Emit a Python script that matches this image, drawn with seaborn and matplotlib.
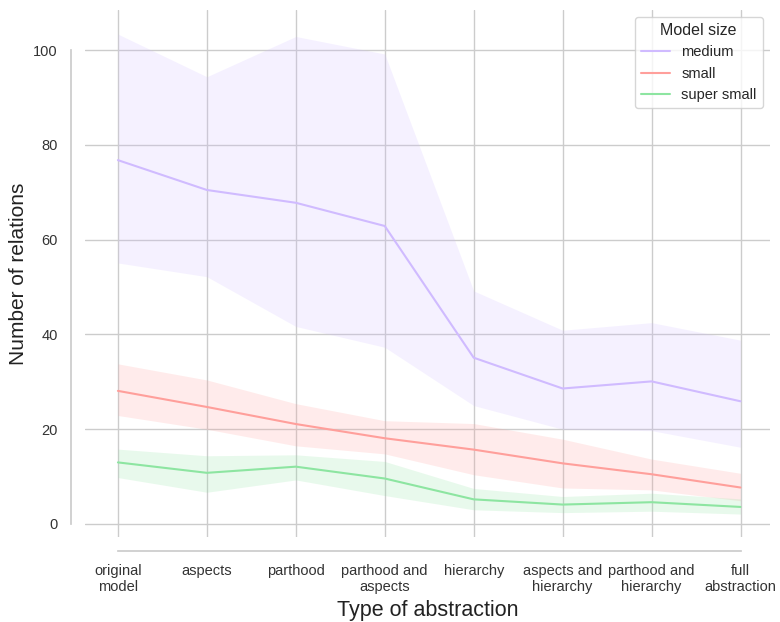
import numpy as np
import pandas as pd
import matplotlib
matplotlib.use("Agg")
import matplotlib.pyplot as plt
import seaborn as sns

categories = ["original\nmodel", "aspects", "parthood", "parthood and\naspects",
              "hierarchy", "aspects and\nhierarchy", "parthood and\nhierarchy", "full\nabstraction"]
sizes = ["medium", "small", "super small"]

medium_mean = [76.8, 70.5, 67.8, 62.9, 35.1, 28.6, 30.1, 25.9]
medium_low = [55.1, 52.2, 41.7, 37.3, 25.0, 20.0, 19.7, 16.2]
medium_high = [103.4, 94.4, 102.9, 99.2, 49.2, 40.9, 42.5, 38.8]

small_mean = [28.1, 24.7, 21.1, 18.1, 15.7, 12.8, 10.5, 7.7]
small_low = [22.9, 20.0, 16.5, 14.8, 10.4, 7.6, 7.2, 4.9]
small_high = [33.8, 30.4, 25.4, 21.8, 21.2, 17.9, 13.7, 10.7]

ssmall_mean = [13.0, 10.8, 12.1, 9.6, 5.2, 4.1, 4.6, 3.6]
ssmall_low = [9.8, 6.7, 9.3, 6.0, 3.0, 2.4, 2.7, 2.1]
ssmall_high = [15.8, 14.4, 14.6, 13.2, 7.5, 5.8, 6.5, 5.3]

pastel = sns.color_palette("pastel")
colors = {"medium": pastel[4], "small": pastel[3], "super small": pastel[2]}

sns.set_theme(style="whitegrid")
plt.rcParams["font.family"] = ["Liberation Sans", "DejaVu Sans"]

means = {"medium": medium_mean, "small": small_mean, "super small": ssmall_mean}
lows = {"medium": medium_low, "small": small_low, "super small": ssmall_low}
highs = {"medium": medium_high, "small": small_high, "super small": ssmall_high}

rows = []
for s in sizes:
    for c, v in zip(categories, means[s]):
        rows.append({"Type of abstraction": c, "Number of relations": v, "Model size": s})
df = pd.DataFrame(rows)

fig = plt.figure(figsize=(7.8, 6.22), dpi=100)
ax = fig.add_axes([0.109, 0.137, 0.878, 0.847])

sns.lineplot(data=df, x="Type of abstraction", y="Number of relations",
             hue="Model size", hue_order=sizes, palette=colors, ax=ax, linewidth=1.5)

xpos = np.arange(len(categories))
for s in sizes:
    ax.fill_between(xpos, lows[s], highs[s], color=colors[s], alpha=0.2, linewidth=0)

ax.set_ylim(-2.7, 108.5)
ax.set_xlim(-0.37, 7.33)
ax.tick_params(axis="both", labelsize=10.5, colors="#333333")
ax.set_xlabel("Type of abstraction", fontsize=15.5, color="#222222")
ax.set_ylabel("Number of relations", fontsize=15, color="#222222")

leg = ax.legend(title="Model size", loc="upper right", fontsize=10.5, title_fontsize=11.5)

sns.despine(ax=ax, offset=10, trim=True)

fig.savefig("out.png", dpi=100)
